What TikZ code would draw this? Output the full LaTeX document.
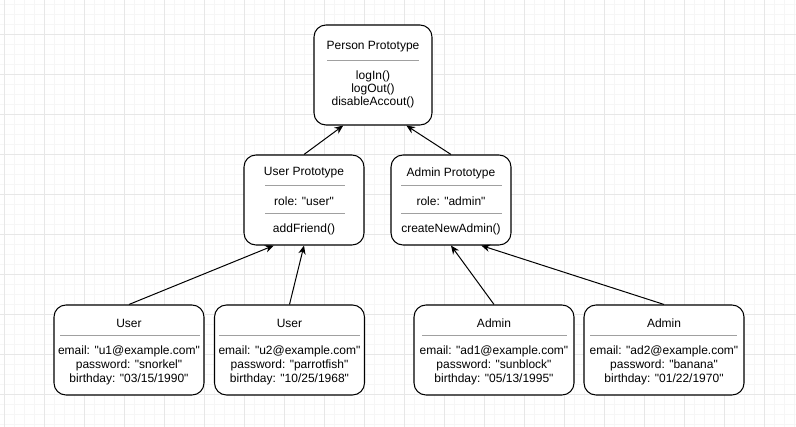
\documentclass[tikz,border=0pt]{standalone}
\usepackage{xcolor}
\usepackage{fontspec}
\setmainfont{Liberation Sans}[Ligatures=TeXOff]
\usetikzlibrary{calc,arrows.meta}

\definecolor{minorgrid}{RGB}{246,246,246}
\definecolor{majorgrid}{RGB}{231,231,231}
\definecolor{sepgray}{RGB}{160,160,160}

\tikzset{
  protobox/.style={draw, line width=0.8pt, rounded corners=9pt, inner sep=0pt, fill=white},
  txt/.style={inner sep=0pt, font=\fontsize{9pt}{11pt}\selectfont},
  sepline/.style={draw=sepgray, line width=0.75pt},
  arr/.style={line width=0.75pt, -{Stealth[length=6.5pt,width=5.5pt]}}
}

\begin{document}
\begin{tikzpicture}[x=0.75pt,y=0.75pt,yscale=-1,xscale=1]
\useasboundingbox (0,0) rectangle (796,427);

%Grid
\fill[white] (0,0) rectangle (796,427);
\foreach \gx in {4,14,...,794} \draw[minorgrid, line width=0.75pt] (\gx,0) -- (\gx,427);
\foreach \gy in {5,15,...,425} \draw[minorgrid, line width=0.75pt] (0,\gy) -- (796,\gy);
\foreach \gx in {4,44,...,794} \draw[majorgrid, line width=0.75pt] (\gx,0) -- (\gx,427);
\foreach \gy in {35,75,...,425} \draw[majorgrid, line width=0.75pt] (0,\gy) -- (796,\gy);

%Shape: Person Prototype
\node[protobox, minimum width=88.5pt, minimum height=75pt] (person) at (373,75) {};
%Shape: User Prototype
\node[protobox, minimum width=90pt, minimum height=67.5pt] (userproto) at (304,200) {};
%Shape: Admin Prototype
\node[protobox, minimum width=90pt, minimum height=67.5pt] (adminproto) at (451,200) {};
%Shape: Users
\node[protobox, minimum width=112.5pt, minimum height=67.5pt] (user1) at (129,350) {};
\node[protobox, minimum width=112.5pt, minimum height=67.5pt] (user2) at (289.5,350) {};
%Shape: Admins
\node[protobox, minimum width=120pt, minimum height=67.5pt] (admin1) at (494,350) {};
\node[protobox, minimum width=120pt, minimum height=67.5pt] (admin2) at (664,350) {};

% Text Node
\node[txt] (persontitle) at (373,47) {Person Prototype};
\draw[sepline] (327,61) -- (419,61);
\node[txt] (login) at (373,76) {logIn()};
\node[txt] (logout) at (373,89) {logOut()};
\node[txt] (disable) at (373,102) {disableAccout()};

% Text Node
\node[txt] (usertitle) at (304,173) {User Prototype};
\draw[sepline] (265,186) -- (345,186);
\node[txt] (userrole) at (304,201) {role: "user"};
\draw[sepline] (265,214) -- (345,214);
\node[txt] (addfriend) at (304,229) {addFriend()};

% Text Node
\node[txt] (admintitle) at (451,173) {Admin Prototype};
\draw[sepline] (401,186) -- (502,186);
\node[txt] (adminrole) at (451,201) {role: "admin"};
\draw[sepline] (401,214) -- (502,214);
\node[txt] (newadmin) at (451,229) {createNewAdmin()};

% Text Node
\node[txt] (u1title) at (129,323) {User};
\draw[sepline] (60,336) -- (200,336);
\node[txt] (u1email) at (129,351) {email: "u1@example.com"};
\node[txt] (u1pass) at (129,365) {password: "snorkel"};
\node[txt] (u1birth) at (129,379) {birthday: "03/15/1990"};

% Text Node
\node[txt] (u2title) at (289.5,323) {User};
\draw[sepline] (219,336) -- (360,336);
\node[txt] (u2email) at (289.5,351) {email: "u2@example.com"};
\node[txt] (u2pass) at (289.5,365) {password: "parrotfish"};
\node[txt] (u2birth) at (289.5,379) {birthday: "10/25/1968"};

% Text Node
\node[txt] (ad1title) at (494,323) {Admin};
\draw[sepline] (422,336) -- (567,336);
\node[txt] (ad1email) at (494,351) {email: "ad1@example.com"};
\node[txt] (ad1pass) at (494,365) {password: "sunblock"};
\node[txt] (ad1birth) at (494,379) {birthday: "05/13/1995"};

% Text Node
\node[txt] (ad2title) at (664,323) {Admin};
\draw[sepline] (590,336) -- (737,336);
\node[txt] (ad2email) at (664,351) {email: "ad2@example.com"};
\node[txt] (ad2pass) at (664,365) {password: "banana"};
\node[txt] (ad2birth) at (664,379) {birthday: "01/22/1970"};

%Straight Lines
\draw[arr] (userproto.north) -- ($(person.south west)!0.25!(person.south east)$);
\draw[arr] (adminproto.north) -- ($(person.south west)!0.78!(person.south east)$);
\draw[arr] (user1.north) -- ($(userproto.south west)!0.25!(userproto.south east)$);
\draw[arr] (user2.north) -- (userproto.south);
\draw[arr] (admin1.north) -- (adminproto.south);
\draw[arr] (admin2.north) -- ($(adminproto.south west)!0.75!(adminproto.south east)$);

\end{tikzpicture}
\end{document}
